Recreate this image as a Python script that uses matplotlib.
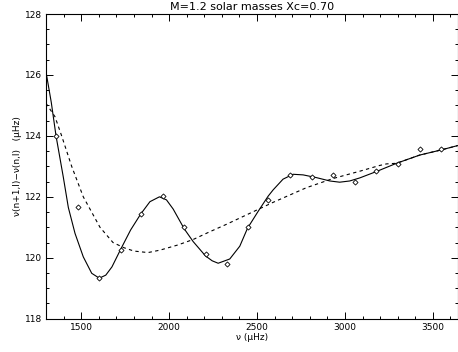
import matplotlib
matplotlib.use("Agg")
from matplotlib import pyplot as plt
from matplotlib.ticker import MultipleLocator

# observed large separations (diamonds)
nu_obs = [1357, 1480, 1603, 1724, 1840, 1963, 2086, 2207, 2327, 2446,
          2565, 2686, 2810, 2932, 3056, 3179, 3300, 3425, 3546]
dnu_obs = [124.0, 121.68, 119.34, 120.27, 121.43, 122.02, 121.0, 120.13, 119.81, 121.0,
           121.91, 122.72, 122.66, 122.72, 122.5, 122.85, 123.08, 123.57, 123.58]

# fitted curve with oscillation (solid)
nu_fit = [1300, 1330, 1357, 1398, 1427, 1465, 1512, 1560, 1603, 1640, 1675,
          1724, 1781, 1838, 1891, 1945, 1985, 2023, 2086, 2137, 2207, 2245, 2279,
          2345, 2402, 2446, 2506, 2563, 2592, 2648, 2705, 2762, 2838, 2914, 2970,
          3027, 3084, 3179, 3293, 3425, 3548, 3640]
dnu_fit = [126.1, 125.1, 124.0, 122.66, 121.65, 120.8, 120.03, 119.49, 119.33, 119.43, 119.7,
           120.27, 120.91, 121.43, 121.84, 122.0, 121.9, 121.6, 120.95, 120.53, 120.06, 119.9, 119.82,
           119.96, 120.38, 120.97, 121.52, 122.02, 122.23, 122.58, 122.74, 122.72, 122.63, 122.52, 122.48,
           122.52, 122.62, 122.83, 123.1, 123.37, 123.54, 123.68]

# smooth component (dashed)
nu_smooth = [1300, 1351, 1389, 1446, 1512, 1607, 1681, 1743, 1800, 1880, 1948,
             2050, 2137, 2230, 2327, 2456, 2592, 2781, 2932, 3027, 3084, 3198, 3236,
             3293, 3425, 3548, 3640]
dnu_smooth = [125.07, 124.63, 124.0, 123.0, 122.0, 121.0, 120.5, 120.33, 120.22, 120.17, 120.25,
              120.42, 120.6, 120.85, 121.1, 121.45, 121.82, 122.3, 122.6, 122.75, 122.84, 123.03, 123.08,
              123.1, 123.37, 123.54, 123.68]

fig = plt.figure(figsize=(4.58, 3.52), dpi=100)
ax = fig.add_axes([46 / 458, 1 - 318.7 / 352, 411.5 / 458, 304.7 / 352])

ax.plot(nu_fit, dnu_fit, color='black', lw=0.8)
ax.plot(nu_smooth, dnu_smooth, color='black', lw=0.8, linestyle=(0, (3, 3)))
ax.plot(nu_obs, dnu_obs, linestyle='none', marker='D', markersize=2.6,
        markerfacecolor='white', markeredgecolor='black', markeredgewidth=0.6)

ax.set_xlim(1300, 3640)
ax.set_ylim(118, 128)
ax.xaxis.set_major_locator(MultipleLocator(500))
ax.xaxis.set_minor_locator(MultipleLocator(100))
ax.yaxis.set_major_locator(MultipleLocator(2))
ax.yaxis.set_minor_locator(MultipleLocator(0.5))
ax.tick_params(which='both', direction='in', top=True, right=True, labelsize=6.5, width=0.7, pad=3)
ax.tick_params(which='major', length=5)
ax.tick_params(which='minor', length=2.5)
for s in ax.spines.values():
    s.set_linewidth(0.8)

ax.set_title("M=1.2 solar masses Xc=0.70", fontsize=8, pad=3)
ax.set_xlabel("\u03bd (\u03bcHz)", fontsize=6.5, labelpad=1)
ax.set_ylabel("\u03bd(n+1,l)\u2212\u03bd(n,l)   (\u03bcHz)", fontsize=6.5, labelpad=1.5)

plt.savefig("out.png", dpi=100)
